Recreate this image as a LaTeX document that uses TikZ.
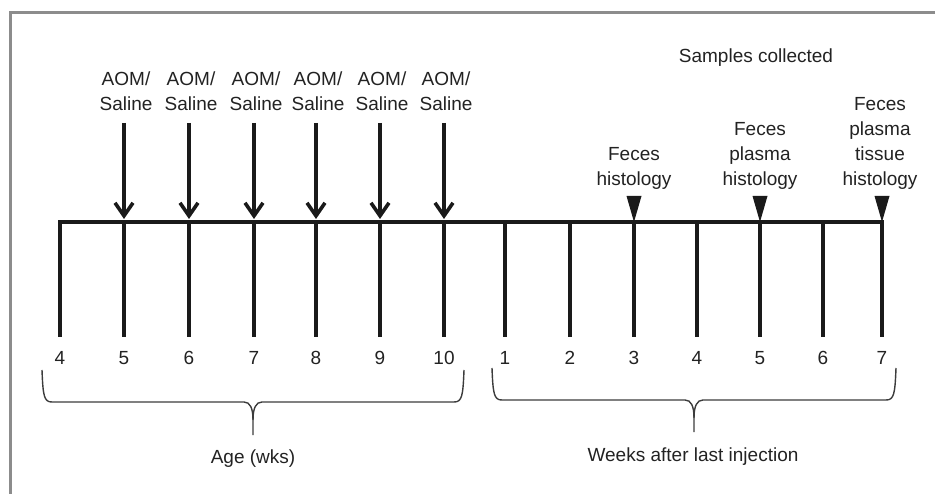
\documentclass[tikz,border=0pt]{standalone}
\usepackage{fontspec}
\setmainfont{Liberation Sans}
\usetikzlibrary{arrows.meta}
\definecolor{ink}{HTML}{1A1A1A}
\definecolor{txt}{HTML}{222222}
\definecolor{frame}{HTML}{8C8C8C}
\tikzset{
  lbl/.style={text=txt, font=\fontsize{19}{25}\selectfont, align=center, inner sep=0pt},
  axisline/.style={draw=ink, line width=4pt},
  inject/.style={draw=ink, line width=3.6pt, -{Straight Barb[length=13pt, width=18pt, line width=3.6pt]}},
  sampletri/.style={fill=ink, draw=none},
  bracepath/.style={draw=ink!85, line width=1.4pt},
}
\begin{document}
\begin{tikzpicture}[x=1pt, y=-1pt]
\useasboundingbox (0,0) rectangle (935,494);
% frame
\draw[frame, line width=3pt] (10,494) -- (10,13) -- (935,13);
% tick coordinates
\foreach \i/\x in {0/60,1/124,2/189,3/254,4/316,5/380,6/444,7/505,8/570,9/634,10/697,11/760,12/823,13/882}{
  \coordinate (t\i) at (\x,222);
  \coordinate (b\i) at (\x,337);
  \coordinate (u\i) at (\x,196);
}
% axis
\draw[axisline, line join=miter] (b0) -- (t0) -- (t13) -- (b13);
\foreach \i in {1,...,12}{ \draw[axisline] (t\i) -- (b\i); }
% tick labels
\foreach \i/\x/\t in {0/60/4,1/124/5,2/189/6,3/254/7,4/316/8,5/380/9,6/444/10,7/505/1,8/570/2,9/634/3,10/697/4,11/760/5,12/823/6,13/882/7}{
  \node[lbl] (n\i) at (\x,358) {\t};
}
% injections
\foreach \i/\x in {1/124,2/189,3/254,4/316,5/380,6/444}{
  \node[lbl, anchor=south] (a\i) at (\x+2,111) {AOM/\\Saline};
  \coordinate (s\i) at (\x,123);
  \coordinate (e\i) at (\x,219);
  \draw[inject] (s\i) -- (e\i);
}
% samples
\node[lbl] (samples) at (756,58) {Samples collected};
\node[lbl, anchor=south] (c9) at (634,190) {Feces\\histology};
\node[lbl, anchor=south] (c11) at (760,190) {Feces\\plasma\\histology};
\node[lbl, anchor=south] (c13) at (880,190) {Feces\\plasma\\tissue\\histology};
\foreach \i in {9,11,13}{
  \fill[sampletri] ([xshift=-7.5pt]u\i) -- ([xshift=7.5pt]u\i) -- (t\i) -- cycle;
}
% braces
\draw[bracepath] (42,370) .. controls (43,396) and (44,402) .. (52,402) -- (244,402)
  .. controls (250,402) and (253,408) .. (253,420) -- (253,435);
\draw[bracepath] (464,370) .. controls (463,396) and (462,402) .. (454,402) -- (262,402)
  .. controls (256,402) and (253,408) .. (253,420);
\draw[bracepath] (492,368) .. controls (493,394) and (494,400) .. (502,400) -- (685,400)
  .. controls (691,400) and (694,406) .. (694,418) -- (694,432);
\draw[bracepath] (896,368) .. controls (895,394) and (894,400) .. (886,400) -- (703,400)
  .. controls (697,400) and (694,406) .. (694,418);
\node[lbl] (age) at (253,459) {Age (wks)};
\node[lbl] (weeks) at (693,457) {Weeks after last injection};
\end{tikzpicture}
\end{document}
